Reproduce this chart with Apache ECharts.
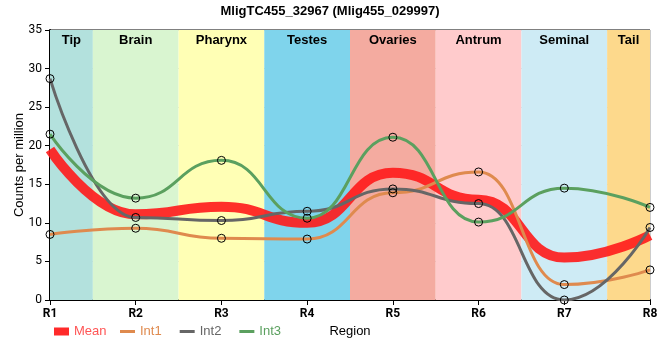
<!DOCTYPE html>
<html><head><meta charset="utf-8">
<script src="https://cdn.jsdelivr.net/npm/echarts@6/dist/echarts.min.js"></script>
<style>html,body{margin:0;padding:0;background:#fff}#c{width:660px;height:360px}</style>
</head><body><div id="c"></div>
<script>
var categories = ['R1','R2','R3','R4','R5','R6','R7','R8'];
var regions = ['Tip','Brain','Pharynx','Testes','Ovaries','Antrum','Seminal','Tail'];
var regionColors = ['#b3e1dd','#d9f5d0','#ffffb5','#7fd4ec','#f4aba0','#ffcbcc','#ceebf5','#fdd98c'];
var meanVals = [19.5, 11.1, 12.1, 10.0, 16.5, 13.0, 5.5, 8.4];
var int1 = [8.5, 9.3, 8.0, 7.9, 13.9, 16.6, 2.0, 3.9];
var int2 = [28.7, 10.7, 10.3, 11.5, 14.4, 12.5, 0.0, 9.4];
var int3 = [21.5, 13.2, 18.1, 10.6, 21.1, 10.1, 14.5, 12.0];

function pts(arr){ return arr.map(function(v,i){ return [i, v]; }); }
var areas = regions.map(function(r,i){
  return [{xAxis: Math.max(0, i-0.5), name: r, itemStyle:{color: regionColors[i]}}, {xAxis: Math.min(categories.length-1, i+0.5)}];
});
var chart = echarts.init(document.getElementById('c'));
var FONT = 'Liberation Sans, Arial';
function lineSeries(name, data, color, w, withSym){
  var s = {name:name, type:'line', data:pts(data), smooth:0.5, smoothMonotone:'x',
    lineStyle:{color:color, width:w}, color: color, emphasis:{disabled:true}};
  if (withSym){ s.symbol='circle'; s.symbolSize=8; s.showSymbol=true;
    s.itemStyle={color:'rgba(255,255,255,0)', borderColor:'#000', borderWidth:1}; }
  else { s.showSymbol=false; s.symbol='none'; }
  return s;
}
var s1 = lineSeries('Int1', int1, '#df8a4e', 3, true);
var s2 = lineSeries('Int2', int2, '#666666', 3, true);
var s3 = lineSeries('Int3', int3, '#5ba05f', 3, true);
var sm = lineSeries('Mean', meanVals, 'rgba(255,25,25,0.9)', 10, false);
sm.markArea = {silent:true, label:{show:true, position:'insideTop', color:'#000', fontWeight:'bold', fontSize:13, fontFamily:FONT, distance:4}, data: areas};
sm.z = 2; s1.z=3; s2.z=3; s3.z=3;
chart.setOption({
  animation:false,
  title:{text:'MligTC455_32967 (Mlig455_029997)', left:'center', top:0, textStyle:{fontSize:13, fontWeight:'bold', color:'#000', fontFamily:FONT}},
  grid:{left:50, right:10, top:30, bottom:60, outerBoundsMode:'none', containLabel:false, show:true, borderColor:'#000', borderWidth:1, backgroundColor:'transparent'},
  legend:[
    {left:54, top:325, itemWidth:15, itemHeight:8, padding:0,
     data:[{name:'Mean', icon:'rect', itemStyle:{color:'#ff2a2a', borderWidth:0}, textStyle:{color:'#ff5555'}}],
     textStyle:{fontSize:13, fontFamily:FONT}},
    {left:120, top:325, itemWidth:15, itemHeight:3, itemGap:18, padding:0,
     data:[{name:'Int1', icon:'rect', itemStyle:{color:'#df8a4e', borderWidth:0}, textStyle:{color:'#df8a4e'}},
           {name:'Int2', icon:'rect', itemStyle:{color:'#666', borderWidth:0}, textStyle:{color:'#666'}},
           {name:'Int3', icon:'rect', itemStyle:{color:'#5ba05f', borderWidth:0}, textStyle:{color:'#5ba05f'}}],
     textStyle:{fontSize:13, fontFamily:FONT}}
  ],
  xAxis:{type:'value', min:0, max:7, interval:1, name:'Region', nameLocation:'middle', nameGap:25, nameMoveOverlap:false,
    nameTextStyle:{color:'#000', fontSize:13, fontFamily:FONT},
    axisLine:{lineStyle:{color:'#000', width:2}}, axisTick:{show:true, lineStyle:{color:'#000'}},
    splitLine:{show:true, lineStyle:{color:'#cccccc'}},
    axisLabel:{formatter:function(v){return categories[v]||'';}, color:'#000', fontWeight:'bold', fontSize:12, fontFamily:'Roboto'}},
  yAxis:{type:'value', min:0, max:35, interval:5, name:'Counts per million', nameLocation:'middle', nameGap:24, nameMoveOverlap:false,
    nameTextStyle:{color:'#000', fontSize:13, fontFamily:FONT},
    axisLine:{show:true, lineStyle:{color:'#000', width:2}}, axisTick:{show:true, lineStyle:{color:'#000'}},
    splitLine:{show:true, lineStyle:{color:'#cccccc'}},
    axisLabel:{color:'#000', fontSize:12, fontFamily:'Roboto'}},
  series:[sm, s1, s2, s3]
});
</script></body></html>
